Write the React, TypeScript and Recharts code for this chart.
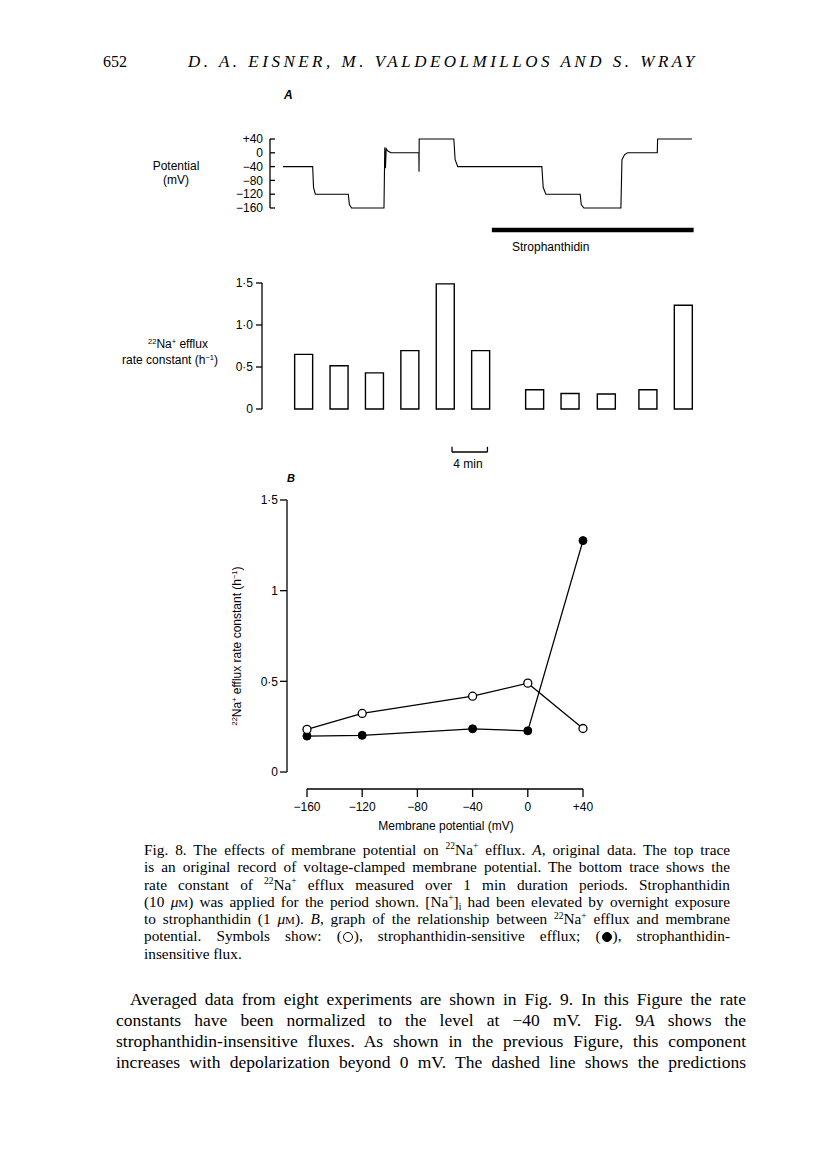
import React from 'react';
import { ComposedChart, LineChart, Line, Bar, XAxis, YAxis, ReferenceLine } from 'recharts';

// ---------- Panel A, top: voltage-clamp record (time in min, potential in mV) ----------
const traceTime = [0, 3.35, 3.45, 3.65, 7.38, 7.5, 7.75, 11.41, 11.5, 11.58, 11.66, 11.85, 12.2, 15.35, 15.37, 15.39, 19.3, 19.45, 19.75, 29.25, 29.4, 29.7, 33.58, 33.7, 34.0, 38.18, 38.3, 38.6, 38.95, 42.29, 42.33, 46.2];
const tracePotential = [-40, -40, -100, -120, -120, -150, -160, -160, 15, -45, 12, 5, 0, 0, -55, 40, 40, -20, -40, -40, -100, -120, -120, -150, -160, -160, -20, -5, 0, 0, 40, 40];
const potentialTicksA = [-160, -120, -80, -40, 0, 40];
const potentialLabelsA = ['\u2212160', '\u2212120', '\u221280', '\u221240', '0', '+40'];
const strophanthidinPeriod = [23.6, 46.4];

// ---------- Panel A, bottom: 22Na efflux rate constant (h^-1) ----------
const barTime = [2.3, 6.3, 10.3, 14.3, 18.3, 22.3, 28.4, 32.4, 36.5, 41.2, 45.2];
const barRate = [0.65, 0.515, 0.43, 0.695, 1.49, 0.695, 0.23, 0.185, 0.178, 0.23, 1.235];
const rateTicksA = [0, 0.5, 1.0, 1.5];
const rateLabelsA = ['0', '0\u00b75', '1\u00b70', '1\u00b75'];
const scaleBarMinutes = [19.1, 23.1];

// ---------- Panel B ----------
const membranePotential = [-160, -120, -40, 0, 40];
const sensitiveEfflux = [0.235, 0.323, 0.418, 0.49, 0.24];
const insensitiveEfflux = [0.198, 0.202, 0.238, 0.227, 1.276];
const potentialTicksB = [-160, -120, -80, -40, 0, 40];
const potentialLabelsB = ['\u2212160', '\u2212120', '\u221280', '\u221240', '0', '+40'];
const rateTicksB = [0, 0.5, 1, 1.5];
const rateLabelsB = ['0', '0\u00b75', '1', '1\u00b75'];

// ---------- layout helpers ----------
const PX_PER_MIN = 8.85;
const T0_PAGE_X = 283;
const timeDomain = (left: number, right: number): [number, number] => [
  (left - T0_PAGE_X) / PX_PER_MIN,
  (right - T0_PAGE_X) / PX_PER_MIN,
];

const SANS = '"Liberation Sans", Arial, Helvetica, sans-serif';
const SERIF = '"Liberation Serif", "Times New Roman", serif';

const traceData = traceTime.map((t, i) => ({ t, v: tracePotential[i] }));
const barData = barTime.map((t, i) => ({ t, rate: barRate[i] }));
const bData = membranePotential.map((mv, i) => ({ mv, open: sensitiveEfflux[i], closed: insensitiveEfflux[i] }));

const tickStyle = { fontSize: 12, fill: '#000', fontFamily: SANS };

const abs = (left: number, top: number, extra: React.CSSProperties = {}): React.CSSProperties => ({
  position: 'absolute',
  left,
  top,
  ...extra,
});

const Sup = ({ children }: { children: React.ReactNode }) => (
  <span style={{ fontSize: '0.62em', position: 'relative', top: '-0.6em', lineHeight: 0 }}>{children}</span>
);
const Sub = ({ children }: { children: React.ReactNode }) => (
  <span style={{ fontSize: '0.62em', position: 'relative', top: '0.35em', lineHeight: 0 }}>{children}</span>
);
const Circle = ({ filled }: { filled?: boolean }) => (
  <span
    style={{
      display: 'inline-block',
      width: 10,
      height: 10,
      boxSizing: 'border-box',
      border: '1.3px solid #000',
      borderRadius: '50%',
      background: filled ? '#000' : 'transparent',
      verticalAlign: '-1px',
      margin: '0 1px',
    }}
  />
);
const MicroM = () => (
  <>
    <i>μ</i>
    <span style={{ fontSize: '0.72em' }}>M</span>
  </>
);

const captionLines: React.ReactNode[] = [
  <>Fig. 8. The effects of membrane potential on <Sup>22</Sup>Na<Sup>+</Sup> efflux. <i>A</i>, original data. The top trace</>,
  <>is an original record of voltage-clamped membrane potential. The bottom trace shows the</>,
  <>rate constant of <Sup>22</Sup>Na<Sup>+</Sup> efflux measured over 1 min duration periods. Strophanthidin</>,
  <>(10 <MicroM />) was applied for the period shown. [Na<Sup>+</Sup>]<Sub>i</Sub> had been elevated by overnight exposure</>,
  <>to strophanthidin (1 <MicroM />). <i>B</i>, graph of the relationship between <Sup>22</Sup>Na<Sup>+</Sup> efflux and membrane</>,
  <>potential. Symbols show: (<Circle />), strophanthidin-sensitive efflux; (<Circle filled />), strophanthidin-</>,
];
const captionLast = 'insensitive flux.';

const bodyLines: React.ReactNode[] = [
  <>Averaged data from eight experiments are shown in Fig. 9. In this Figure the rate</>,
  <>constants have been normalized to the level at −40 mV. Fig. 9<i>A</i> shows the</>,
  <>strophanthidin-insensitive fluxes. As shown in the previous Figure, this component</>,
  <>increases with depolarization beyond 0 mV. The dashed line shows the predictions</>,
];

const justified: React.CSSProperties = {
  textAlign: 'justify',
  textAlignLast: 'justify' as any,
};

export default function App() {
  const traceDom = timeDomain(270, 700);
  const barDom = timeDomain(262, 700);

  return (
    <div style={{ position: 'absolute', left: 0, top: 0, width: 816, height: 1170, background: '#fff', color: '#000', fontFamily: SERIF }}>
      {/* Running head */}
      <div style={abs(103, 52, { fontSize: 16, lineHeight: '20px' })}>652</div>
      <div style={abs(188, 52, { fontSize: 17, lineHeight: '20px', fontStyle: 'italic', letterSpacing: 3.5, whiteSpace: 'nowrap' })}>
        D. A. EISNER, M. VALDEOLMILLOS AND S. WRAY
      </div>

      {/* Panel A label */}
      <div style={abs(284, 88, { fontFamily: SANS, fontStyle: 'italic', fontWeight: 'bold', fontSize: 12 })}>A</div>

      {/* Potential axis title */}
      <div style={abs(140, 159, { fontFamily: SANS, fontSize: 12, width: 72, textAlign: 'center', lineHeight: '14px' })}>
        Potential<br />(mV)
      </div>

      {/* Voltage trace */}
      <div style={abs(130, 128)}>
        <LineChart width={580} height={110} data={traceData} margin={{ top: 11, right: 10, bottom: 30, left: 0 }}>
          <XAxis type="number" dataKey="t" domain={traceDom} allowDataOverflow hide />
          <YAxis
            type="number"
            domain={[-160, 40]}
            ticks={potentialTicksA}
            tickFormatter={(v: number) => potentialLabelsA[potentialTicksA.indexOf(v)]}
            width={140}
            tickSize={-5}
            tickMargin={12}
            interval={0}
            axisLine={{ stroke: '#000', strokeWidth: 1.3 }}
            tickLine={{ stroke: '#000', strokeWidth: 1.3 }}
            tick={tickStyle}
          />
          <Line type="linear" dataKey="v" stroke="#000" strokeWidth={1.1} dot={false} isAnimationActive={false} />
          <ReferenceLine
            segment={[{ x: strophanthidinPeriod[0], y: -223.8 }, { x: strophanthidinPeriod[1], y: -223.8 }]}
            stroke="#000"
            strokeWidth={4.5}
            ifOverflow="visible"
          />
        </LineChart>
      </div>
      <div style={abs(512, 240, { fontFamily: SANS, fontSize: 12 })}>Strophanthidin</div>

      {/* Efflux axis title */}
      <div style={abs(108, 336, { fontFamily: SANS, fontSize: 12, width: 124, textAlign: 'center', lineHeight: '16px' })}>
        <div style={{ paddingLeft: 16 }}><Sup>22</Sup>Na<Sup>+</Sup> efflux</div>
        <div>rate constant (h<Sup>−1</Sup>)</div>
      </div>

      {/* Efflux bars */}
      <div style={abs(130, 270)}>
        <ComposedChart width={580} height={210} data={barData} margin={{ top: 13, right: 10, bottom: 71, left: 0 }}>
          <XAxis type="number" dataKey="t" domain={barDom} allowDataOverflow hide />
          <YAxis
            type="number"
            domain={[0, 1.5]}
            ticks={rateTicksA}
            tickFormatter={(v: number) => rateLabelsA[rateTicksA.indexOf(v)]}
            width={132}
            tickSize={6}
            tickMargin={3}
            interval={0}
            axisLine={{ stroke: '#000', strokeWidth: 1.3 }}
            tickLine={{ stroke: '#000', strokeWidth: 1.3 }}
            tick={tickStyle}
          />
          <Bar dataKey="rate" barSize={18} fill="#fff" stroke="#000" strokeWidth={1.4} isAnimationActive={false} />
          <ReferenceLine segment={[{ x: scaleBarMinutes[0], y: -0.512 }, { x: scaleBarMinutes[1], y: -0.512 }]} stroke="#000" strokeWidth={1.3} ifOverflow="visible" />
          <ReferenceLine segment={[{ x: scaleBarMinutes[0], y: -0.512 }, { x: scaleBarMinutes[0], y: -0.45 }]} stroke="#000" strokeWidth={1.3} ifOverflow="visible" />
          <ReferenceLine segment={[{ x: scaleBarMinutes[1], y: -0.512 }, { x: scaleBarMinutes[1], y: -0.45 }]} stroke="#000" strokeWidth={1.3} ifOverflow="visible" />
        </ComposedChart>
      </div>
      <div style={abs(448, 457, { fontFamily: SANS, fontSize: 12, width: 40, textAlign: 'center' })}>4 min</div>

      {/* Panel B label */}
      <div style={abs(287, 472, { fontFamily: SANS, fontStyle: 'italic', fontWeight: 'bold', fontSize: 11 })}>B</div>

      {/* Panel B y-axis title */}
      <div
        style={abs(237, 646, {
          fontFamily: SANS,
          fontSize: 12,
          whiteSpace: 'nowrap',
          transform: 'translate(-50%, -50%) rotate(-90deg)',
        })}
      >
        <Sup>22</Sup>Na<Sup>+</Sup> efflux rate constant (h<Sup>−1</Sup>)
      </div>

      {/* Panel B chart */}
      <div style={abs(180, 470)}>
        <LineChart width={430} height={360} data={bData} margin={{ top: 30, right: 27, bottom: 11, left: 0 }}>
          <XAxis
            type="number"
            dataKey="mv"
            domain={[-160, 40]}
            ticks={potentialTicksB}
            tickFormatter={(v: number) => potentialLabelsB[potentialTicksB.indexOf(v)]}
            padding={{ left: 20, right: 0 }}
            height={30}
            tickSize={8}
            tickMargin={5}
            interval={0}
            axisLine={{ stroke: '#000', strokeWidth: 1.3, strokeDasharray: '0 20 276 1000' }}
            tickLine={{ stroke: '#000', strokeWidth: 1.3 }}
            tick={tickStyle}
          />
          <YAxis
            type="number"
            domain={[0, 1.5]}
            ticks={rateTicksB}
            tickFormatter={(v: number) => rateLabelsB[rateTicksB.indexOf(v)]}
            padding={{ top: 0, bottom: 17 }}
            width={107}
            tickSize={7}
            tickMargin={2}
            interval={0}
            axisLine={{ stroke: '#000', strokeWidth: 1.3, strokeDasharray: '272 1000' }}
            tickLine={{ stroke: '#000', strokeWidth: 1.3 }}
            tick={tickStyle}
          />
          <Line
            type="linear"
            dataKey="closed"
            stroke="#000"
            strokeWidth={1.3}
            dot={{ r: 4, fill: '#000', stroke: '#000', strokeWidth: 1 }}
            isAnimationActive={false}
          />
          <Line
            type="linear"
            dataKey="open"
            stroke="#000"
            strokeWidth={1.3}
            dot={{ r: 4, fill: '#fff', stroke: '#000', strokeWidth: 1.3 }}
            isAnimationActive={false}
          />
        </LineChart>
      </div>
      <div style={abs(446, 819, { fontFamily: SANS, fontSize: 12, transform: 'translateX(-50%)', whiteSpace: 'nowrap' })}>
        Membrane potential (mV)
      </div>

      {/* Caption */}
      <div style={abs(144, 841, { width: 586, fontSize: 15.3, lineHeight: '17.3px' })}>
        {captionLines.map((l, i) => (
          <div key={i} style={{ ...justified, height: 17.3 }}>{l}</div>
        ))}
        <div style={{ height: 17.3 }}>{captionLast}</div>
      </div>

      {/* Body text */}
      <div style={abs(116, 989, { width: 630, fontSize: 17.5, lineHeight: '21px' })}>
        {bodyLines.map((l, i) => (
          <div key={i} style={{ ...justified, textIndent: i === 0 ? 14 : 0, height: 21 }}>{l}</div>
        ))}
      </div>
    </div>
  );
}
